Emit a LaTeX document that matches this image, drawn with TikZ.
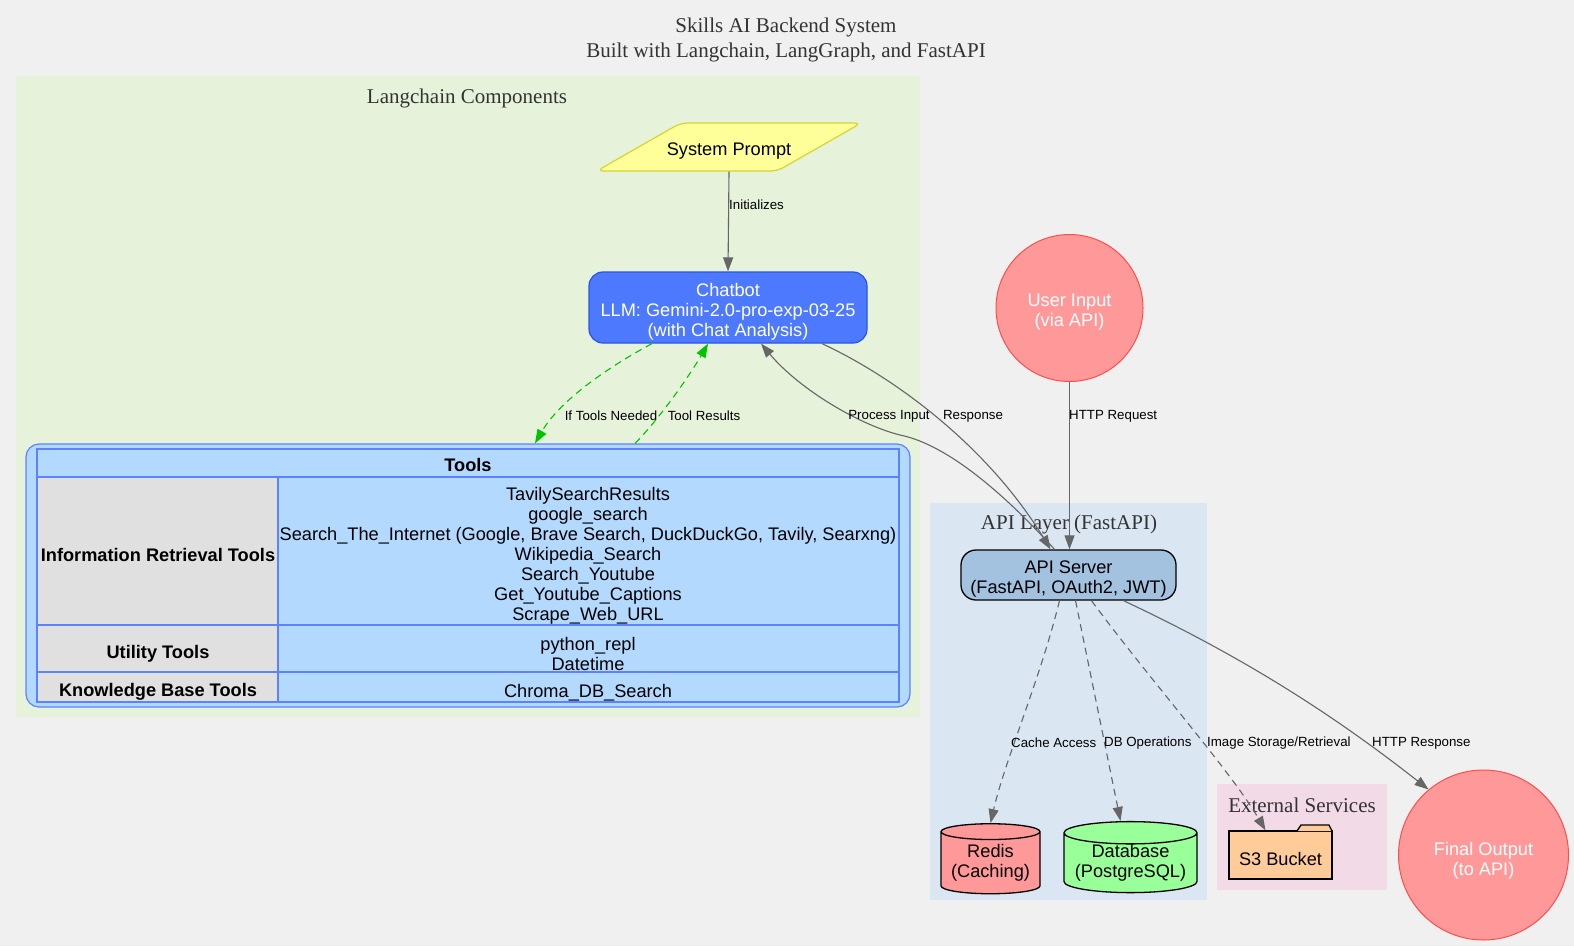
\documentclass[tikz,border=0pt]{standalone}
\usepackage{fontspec}
\setmainfont{Liberation Sans}
\newfontfamily\ttlserif{Liberation Serif}
\usetikzlibrary{shapes.geometric,arrows.meta}
\newcommand\ndfnt{\fontsize{18.2}{20}\selectfont}
\newcommand\edfnt{\fontsize{13.3}{15}\selectfont}
\newcommand\ttlfnt{\ttlserif\fontsize{21}{25}\selectfont}
\definecolor{bgc}{RGB}{240,240,240}
\definecolor{lcgreen}{RGB}{230,242,218}
\definecolor{apibg}{RGB}{218,230,242}
\definecolor{extbg}{RGB}{242,218,230}
\definecolor{spfill}{RGB}{255,255,153}
\definecolor{spdraw}{RGB}{212,212,51}
\definecolor{chatfill}{RGB}{77,121,255}
\definecolor{chatdraw}{RGB}{40,85,230}
\definecolor{toolfill}{RGB}{179,217,255}
\definecolor{tooldraw}{RGB}{92,130,255}
\definecolor{cellgray}{RGB}{224,224,224}
\definecolor{redfill}{RGB}{255,153,153}
\definecolor{reddraw}{RGB}{255,77,77}
\definecolor{apifill}{RGB}{163,194,224}
\definecolor{dbfill}{RGB}{153,255,153}
\definecolor{s3fill}{RGB}{255,204,153}
\definecolor{edgegray}{RGB}{102,102,102}
\definecolor{edgegreen}{RGB}{0,196,0}
\definecolor{ttlgray}{RGB}{51,51,51}
\begin{document}
\begin{tikzpicture}[x=1pt,y=-1pt,
  ttl/.style={font=\ttlfnt, text=ttlgray, align=center, inner sep=0pt},
  nd/.style={font=\ndfnt, align=center, inner sep=0pt},
  ntext/.style={nd, yshift=-4pt},
  elab/.style={font=\edfnt, inner sep=0pt, text=black},
  conn/.style={draw=edgegray, line width=1.1pt, -{Triangle[length=14pt,width=10pt]}},
  dconn/.style={conn, dash pattern=on 7pt off 5pt},
  gconn/.style={draw=edgegreen, line width=1.1pt, dash pattern=on 7pt off 5pt, -{Triangle[length=14pt,width=10pt]}, color=edgegreen},
  cyl/.style={nd, cylinder, shape border rotate=90, aspect=0.2, draw=black, line width=1.3pt},
  circ/.style={circle, fill=redfill, draw=reddraw, line width=1pt},
  tline/.style={draw=tooldraw, line width=1.8pt}
]
\fill[bgc] (0,0) rectangle (1574,946);
\useasboundingbox (0,0) rectangle (1574,946);

% title
\node[ttl] (title) at (786,40) {Skills AI Backend System\\Built with Langchain, LangGraph, and FastAPI};

% clusters
\fill[lcgreen] (16,76) rectangle (920,717);
\node[ttl] (lclabel) at (467,98) {Langchain Components};
\fill[apibg] (930,503) rectangle (1207,900);
\node[ttl] (apilabel) at (1069,524) {API Layer (FastAPI)};
\fill[extbg] (1217,784) rectangle (1387,890);
\node[ttl] (extlabel) at (1302,805) {External Services};

% system prompt
\node[trapezium, trapezium left angle=49, trapezium right angle=131, trapezium stretches=true,
      minimum width=265pt, minimum height=48pt, fill=spfill, draw=spdraw, line width=1.2pt,
      rounded corners=7pt] (sp) at (729,147) {};
\node[ntext] (sptext) at (sp.center) {System Prompt};

% chatbot
\node[rectangle, rounded corners=14pt, minimum width=278pt, minimum height=71pt,
      fill=chatfill, draw=chatdraw, line width=1.2pt] (chat) at (728,307.5) {};
\node[ntext, text=white] (chattext) at (chat.center)
      {Chatbot\\LLM: Gemini-2.0-pro-exp-03-25\\(with Chat Analysis)};

% tools
\node[rectangle, rounded corners=13pt, minimum width=884pt, minimum height=263pt,
      fill=toolfill, draw=tooldraw, line width=1.2pt] (tools) at (468,575.5) {};
\fill[cellgray] (37,477) rectangle (278,702);
\draw[tline] (37,449) rectangle (899,702);
\draw[tline] (37,477) -- (899,477);
\draw[tline] (37,625) -- (899,625);
\draw[tline] (37,672) -- (899,672);
\draw[tline] (278,477) -- (278,702);
\node[nd, font=\ndfnt\bfseries] (thdr) at (468,465) {Tools};
\node[nd, font=\ndfnt\bfseries] (tir) at (158,555) {Information Retrieval Tools};
\node[nd] (tirlist) at (588,555.5) {TavilySearchResults\\google\_search\\Search\_The\_Internet (Google, Brave Search, DuckDuckGo, Tavily, Searxng)\\Wikipedia\_Search\\Search\_Youtube\\Get\_Youtube\_Captions\\Scrape\_Web\_URL};
\node[nd, font=\ndfnt\bfseries] (tut) at (158,654) {Utility Tools};
\node[nd] (tutlist) at (588,654) {python\_repl\\Datetime};
\node[nd, font=\ndfnt\bfseries] (tkb) at (158,692) {Knowledge Base Tools};
\node[nd] (tkblist) at (588,693) {Chroma\_DB\_Search};

% user input, api server
\node[circ, minimum size=147pt] (user) at (1069.5,308) {};
\node[ntext, text=white] (usertext) at (user.center) {User Input\\(via API)};
\node[rectangle, rounded corners=15pt, minimum width=215pt, minimum height=50pt,
      fill=apifill, draw=black, line width=1.3pt] (api) at (1068.5,575) {};
\node[ntext] (apitext) at (api.center) {API Server\\(FastAPI, OAuth2, JWT)};

% storage
\node[cyl, fill=redfill, minimum width=99pt, minimum height=70pt] (redis) at (990.5,863) {Redis\\(Caching)};
\node[cyl, fill=dbfill, minimum width=133pt, minimum height=70pt] (db) at (1130.5,863) {Database\\(PostgreSQL)};

% s3 folder
\node[rectangle, minimum width=103pt, minimum height=48pt, fill=s3fill, draw=black, line width=1.3pt] (s3) at (1280.5,855) {};
\node[ntext] (s3text) at (s3.center) {S3 Bucket};
\draw[fill=s3fill, draw=black, line width=1.3pt] (1297,831) -- (1301,825) -- (1329,825) -- (1332,831);

% final output
\node[circ, minimum size=170pt] (final) at (1483.5,855) {};
\node[ntext, text=white, yshift=-2pt] (finaltext) at (final.center) {Final Output\\(to API)};

% edges
\draw[conn] (sp.south) -- (chat.north);
\node[elab, anchor=west] (linit) at (729,205) {Initializes};

\draw[gconn] ([xshift=-76pt]chat.south) .. controls (610,366) and (560,400) .. ([xshift=67pt]tools.north);
\node[elab] (lifn) at (611,416) {If Tools Needed};
\draw[gconn] ([xshift=167pt]tools.north) .. controls (660,418) and (690,375) .. ([xshift=-20pt]chat.south);
\node[elab] (ltr) at (704,416) {Tool Results};

\draw[conn] ([xshift=-14pt]api.north) .. controls (1010,500) and (950,445) .. (900,435)
            .. controls (860,425) and (800,390) .. ([xshift=33pt]chat.south);
\node[elab] (lpi) at (889,416) {Process Input};
\draw[conn] ([xshift=94pt]chat.south) .. controls (900,380) and (990,450) .. ([xshift=-18pt]api.north);
\node[elab] (lresp) at (973,416) {Response};

\draw[conn] (user.south) -- (user.south |- api.north);
\node[elab, anchor=west] (lhttpreq) at (1069,416) {HTTP Request};

\draw[dconn] ([xshift=-9pt]api.south) .. controls (1040,680) and (1005,760) .. (redis.north);
\node[elab, anchor=west] (lcache) at (1011,743) {Cache Access};
\draw[dconn] ([xshift=7pt]api.south) -- ([xshift=-10pt]db.north);
\node[elab, anchor=west] (ldb) at (1104,743) {DB Operations};
\draw[dconn] ([xshift=23pt]api.south) .. controls (1150,680) and (1230,770) .. ([xshift=-15pt]s3.north);
\node[elab, anchor=west] (limg) at (1207,743) {Image Storage/Retrieval};
\draw[conn] ([xshift=55pt]api.south) .. controls (1250,660) and (1340,720) .. (final.130);
\node[elab, anchor=west] (lhttpresp) at (1372,743) {HTTP Response};
\end{tikzpicture}
\end{document}
